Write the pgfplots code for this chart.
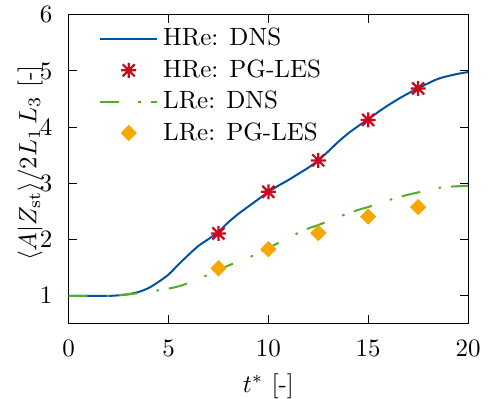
\documentclass[border=0pt]{standalone}
\usepackage{pgfplots}
\pgfplotsset{compat=1.18}
\definecolor{rwthblue}{RGB}{0,84,159}
\definecolor{rwthred}{RGB}{204,7,30}
\definecolor{rwthgreen}{RGB}{87,171,39}
\definecolor{rwthorange}{RGB}{246,168,0}
\pgfdeclareplotmark{gstar}{%
  \pgfpathmoveto{\pgfqpoint{-\pgfplotmarksize}{0pt}}%
  \pgfpathlineto{\pgfqpoint{\pgfplotmarksize}{0pt}}%
  \pgfpathmoveto{\pgfqpoint{0pt}{-\pgfplotmarksize}}%
  \pgfpathlineto{\pgfqpoint{0pt}{\pgfplotmarksize}}%
  \pgfpathmoveto{\pgfqpoint{-.8\pgfplotmarksize}{-.8\pgfplotmarksize}}%
  \pgfpathlineto{\pgfqpoint{.8\pgfplotmarksize}{.8\pgfplotmarksize}}%
  \pgfpathmoveto{\pgfqpoint{-.8\pgfplotmarksize}{.8\pgfplotmarksize}}%
  \pgfpathlineto{\pgfqpoint{.8\pgfplotmarksize}{-.8\pgfplotmarksize}}%
  \pgfusepathqstroke}
\begin{document}
\begin{tikzpicture}
\begin{axis}[
  name=ax,
  scale only axis,
  width=159.7pt, height=123.7pt,
  xmin=0, xmax=20, ymin=0.5, ymax=6,
  xtick={0,5,10,15,20}, ytick={1,2,3,4,5,6},
  major tick length=3.4pt,
  tick style={black, line width=0.4pt},
  xticklabel shift=3pt, yticklabel shift=3pt,
  xlabel={$t^{*}$ [-]},
  ylabel={$\langle A|Z_{\mathrm{st}}\rangle/2L_1\,L_3$ [-]},
  ylabel style={at={(axis description cs:-0.097,0.52)}, anchor=center},
  legend cell align=left,
  legend style={at={(axis description cs:0,1)}, xshift=9pt, yshift=-1.2pt, anchor=north west, draw=none, fill=none},
  legend image code/.code={\draw[mark repeat=2, mark phase=2, #1] plot coordinates {(0cm,0cm) (0.4cm,0cm) (0.8cm,0cm)};},
]
\addplot[rwthblue, line width=0.8pt, smooth] coordinates {
(0,1.00) (1,1.00) (2,1.00) (2.5,1.01) (3,1.03) (3.5,1.07) (4,1.14) (4.5,1.25)
(5,1.38) (5.5,1.56) (6,1.73) (6.5,1.89) (7,2.01) (7.5,2.14) (8,2.31) (8.5,2.46)
(9,2.59) (9.5,2.72) (10,2.85) (10.5,2.96) (11,3.06) (11.5,3.17) (12,3.28) (12.5,3.41)
(13,3.57) (13.5,3.74) (14,3.89) (14.5,4.02) (15,4.14) (15.5,4.27) (16,4.39) (16.5,4.50)
(17,4.60) (17.5,4.69) (18,4.78) (18.5,4.86) (19,4.91) (19.5,4.95) (20,4.98)};
\addlegendentry{HRe: DNS}
\addplot[only marks, mark=gstar, mark size=3pt, rwthred, mark options={line width=0.9pt}] coordinates {
(7.5,2.11) (10,2.85) (12.5,3.41) (15,4.13) (17.5,4.69)};
\addlegendentry{HRe: PG-LES}
\addplot[rwthgreen, line width=0.8pt, smooth, dash pattern=on 7.5pt off 7.6pt on 1pt off 4pt] coordinates {
(0,1.00) (1,1.00) (2,1.00) (3,1.03) (4,1.07) (4.5,1.10) (5,1.13) (5.5,1.17) (6,1.23)
(6.5,1.30) (7,1.38) (7.5,1.46) (8,1.54) (8.5,1.61) (9,1.68) (9.5,1.76) (10,1.85)
(10.5,1.94) (11,2.03) (11.5,2.12) (12,2.20) (12.5,2.26) (13,2.33) (13.5,2.40) (14,2.47)
(14.5,2.53) (15,2.58) (15.5,2.64) (16,2.70) (16.5,2.75) (17,2.80) (17.5,2.84) (18,2.89)
(18.5,2.92) (19,2.94) (19.5,2.95) (20,2.96)};
\addlegendentry{LRe: DNS}
\addplot[only marks, mark=square*, mark size=2.1pt, rwthorange, mark options={rotate=45}] coordinates {
(7.5,1.49) (10,1.83) (12.5,2.12) (15,2.41) (17.5,2.58)};
\addlegendentry{LRe: PG-LES}
\end{axis}
\pgfresetboundingbox
\path ([shift={(-27.5pt,-30pt)}]ax.south west) rectangle ([shift={(10.8pt,5.9pt)}]ax.north east);
\end{tikzpicture}
\end{document}
